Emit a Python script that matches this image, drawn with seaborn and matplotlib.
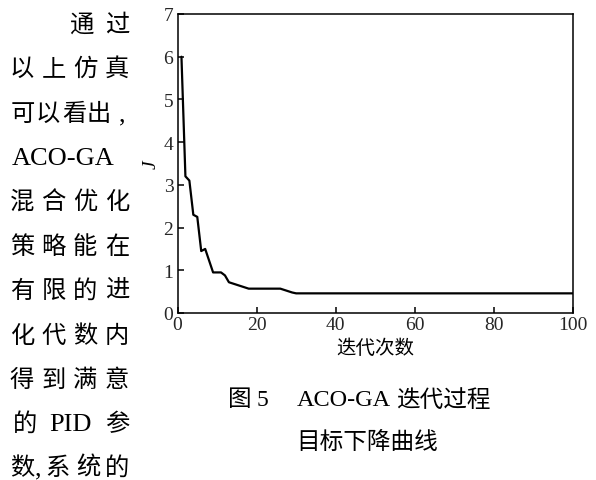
import matplotlib
matplotlib.use("Agg")
import matplotlib.pyplot as plt
import seaborn as sns
import pandas as pd

# ---- data ----
iterations = [1, 2, 3, 4, 5, 6, 7, 9, 11, 12, 13, 18, 26, 29, 30, 100]
objective_J = [6.0, 3.2, 3.1, 2.3, 2.25, 1.45, 1.5, 0.95, 0.95, 0.88, 0.72,
               0.57, 0.57, 0.48, 0.46, 0.46]
x_ticks = [0, 20, 40, 60, 80, 100]
y_ticks = [0, 1, 2, 3, 4, 5, 6, 7]
x_label = "迭代次数"
y_label = "J"
caption_fig = "图"
caption_num = "5"
caption_method = "ACO-GA"
caption_rest1 = "迭代过程"
caption_line2 = "目标下降曲线"
body_lines = [
    ["", "", "通", "过"],
    ["以", "上", "仿", "真"],
    ["可", "以", "看", "出", ","],
    ["ACO-GA"],
    ["混", "合", "优", "化"],
    ["策", "略", "能", "在"],
    ["有", "限", "的", "进"],
    ["化", "代", "数", "内"],
    ["得", "到", "满", "意"],
    ["的", "PID", "参"],
    ["数", ",", "系", "统", "的"],
]

sns.set_theme(style="ticks")
CJK = ["Noto Sans CJK SC", "DejaVu Sans"]
SERIF = ["Liberation Serif", "Noto Sans CJK SC"]
plt.rcParams["font.family"] = SERIF

W, H = 596, 481
fig = plt.figure(figsize=(W / 100, H / 100), dpi=100)
fig.patch.set_facecolor("white")

left, right, top, bottom = 177.5, 573.0, 15.0, 314.0
ax = fig.add_axes([left / W, 1 - bottom / H, (right - left) / W, (bottom - top) / H])
ax.set_facecolor("white")

df = pd.DataFrame({"iter": iterations, "J": objective_J})
sns.lineplot(data=df, x="iter", y="J", ax=ax, color="black", linewidth=1.6,
             estimator=None, sort=False)

ax.set_xlim(0, 100)
ax.set_ylim(0, 7)
ax.set_xticks(x_ticks)
ax.set_yticks(y_ticks)
ax.set_xticklabels([str(v) for v in x_ticks], fontfamily=SERIF, fontsize=14)
ax.set_yticklabels([str(v) for v in y_ticks], fontfamily=SERIF, fontsize=14)
ax.tick_params(axis="both", direction="in", length=4.5, width=1.1, color="black",
               top=False, right=False)
ax.tick_params(axis="x", pad=2)
ax.tick_params(axis="y", pad=3)
for s in ax.spines.values():
    s.set_visible(True)
    s.set_color("black")
    s.set_linewidth(1.1)

ax.set_xlabel(x_label, fontfamily=CJK, fontsize=14, labelpad=3, color="black")
ax.set_ylabel(y_label, fontfamily=SERIF, fontstyle="italic", fontsize=14,
              labelpad=3, color="black")

def fx(px):
    return px / W

def fy(py):
    return 1 - py / H

# caption
cap_size = 17
fig.text(fx(240), fy(400), caption_fig, fontfamily=CJK, fontsize=cap_size,
         ha="center", va="center", color="black")
fig.text(fx(262), fy(401), caption_num, fontfamily=SERIF, fontsize=cap_size,
         ha="center", va="center", color="black")
fig.text(fx(297), fy(401), caption_method, fontfamily=SERIF, fontsize=17.5,
         ha="left", va="center", color="black")
fig.text(fx(443), fy(400), caption_rest1, fontfamily=CJK, fontsize=cap_size,
         ha="center", va="center", color="black")
fig.text(fx(367), fy(442), caption_line2, fontfamily=CJK, fontsize=cap_size,
         ha="center", va="center", color="black")

# body text column on the left
line_y = [25, 69, 114, 158, 202, 247, 291, 336, 380, 424, 468]
col_x = [22, 53.5, 85, 117]
body_size = 17.5
for yy, chars in zip(line_y, body_lines):
    if chars == ["ACO-GA"]:
        fig.text(fx(12), fy(yy + 1), "ACO-GA", fontfamily=SERIF, fontsize=19,
                 ha="left", va="center", color="black")
        continue
    if len(chars) == 5 and chars[1] == "以":
        xs = [23, 48, 74, 99, 122]
    elif len(chars) == 5:
        xs = [22, 38, 57, 88, 117]
    elif len(chars) == 3:
        xs = [25, 70, 117]
    else:
        xs = [22, 53.5, 81, 117] if chars[0] == "" else col_x
    for xx, ch in zip(xs, chars):
        if not ch:
            continue
        if ch in ("PID", ","):
            fig.text(fx(xx), fy(yy + 1), ch, fontfamily=SERIF, fontsize=19,
                     ha="center", va="center", color="black")
        else:
            fig.text(fx(xx), fy(yy), ch, fontfamily=CJK, fontsize=body_size,
                     ha="center", va="center", color="black")

fig.savefig("out.png", dpi=100, facecolor="white")
